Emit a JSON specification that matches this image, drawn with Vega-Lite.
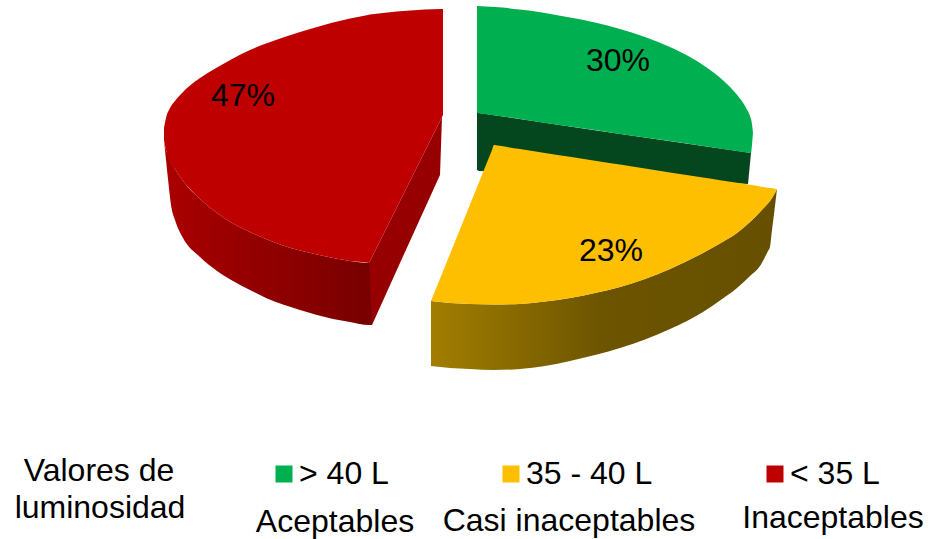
{
  "$schema": "https://vega.github.io/schema/vega-lite/v6.json",
  "description": "Exploded 3D pie of luminosity classes. Vega-Lite has no perspective arc, so each face is an outline in projected chart units (x, y to y2).",
  "width": 930,
  "height": 539,
  "padding": 0,
  "autosize": {"type": "none"},
  "background": "white",
  "config": {"view": {"stroke": null}, "font": "Liberation Sans"},
  "datasets": {
    "caras": [
      {"rango": "< 35 L", "parte": "tapa", "x": 164, "y": 128, "y2": 140},
      {"rango": "< 35 L", "parte": "tapa", "x": 166, "y": 118, "y2": 150},
      {"rango": "< 35 L", "parte": "tapa", "x": 170, "y": 108, "y2": 161},
      {"rango": "< 35 L", "parte": "tapa", "x": 175, "y": 101, "y2": 169},
      {"rango": "< 35 L", "parte": "tapa", "x": 183, "y": 92, "y2": 181},
      {"rango": "< 35 L", "parte": "tapa", "x": 190, "y": 85.5, "y2": 189},
      {"rango": "< 35 L", "parte": "tapa", "x": 200, "y": 78, "y2": 199},
      {"rango": "< 35 L", "parte": "tapa", "x": 217, "y": 67.5, "y2": 213},
      {"rango": "< 35 L", "parte": "tapa", "x": 233, "y": 58.5, "y2": 223.5},
      {"rango": "< 35 L", "parte": "tapa", "x": 250, "y": 50, "y2": 232},
      {"rango": "< 35 L", "parte": "tapa", "x": 266, "y": 43.5, "y2": 239},
      {"rango": "< 35 L", "parte": "tapa", "x": 283, "y": 37.5, "y2": 245.5},
      {"rango": "< 35 L", "parte": "tapa", "x": 300, "y": 32, "y2": 250.5},
      {"rango": "< 35 L", "parte": "tapa", "x": 317, "y": 27, "y2": 254.5},
      {"rango": "< 35 L", "parte": "tapa", "x": 333, "y": 22.5, "y2": 258},
      {"rango": "< 35 L", "parte": "tapa", "x": 350, "y": 18.5, "y2": 261},
      {"rango": "< 35 L", "parte": "tapa", "x": 368, "y": 15, "y2": 262.8},
      {"rango": "< 35 L", "parte": "tapa", "x": 369, "y": 14.8, "y2": 263},
      {"rango": "< 35 L", "parte": "tapa", "x": 370, "y": 14.6, "y2": 261},
      {"rango": "< 35 L", "parte": "tapa", "x": 383, "y": 13, "y2": 235},
      {"rango": "< 35 L", "parte": "tapa", "x": 410, "y": 10.5, "y2": 181},
      {"rango": "< 35 L", "parte": "tapa", "x": 440, "y": 9.1, "y2": 121},
      {"rango": "< 35 L", "parte": "tapa", "x": 442, "y": 9, "y2": 117},
      {"rango": "< 35 L", "parte": "tapa", "x": 443, "y": 9, "y2": 115},

      {"rango": "< 35 L", "parte": "borde", "x": 164, "y": 140, "y2": 140},
      {"rango": "< 35 L", "parte": "borde", "x": 166, "y": 150, "y2": 160},
      {"rango": "< 35 L", "parte": "borde", "x": 168, "y": 155, "y2": 179},
      {"rango": "< 35 L", "parte": "borde", "x": 171, "y": 162, "y2": 205},
      {"rango": "< 35 L", "parte": "borde", "x": 175, "y": 169, "y2": 220},
      {"rango": "< 35 L", "parte": "borde", "x": 183, "y": 181, "y2": 238},
      {"rango": "< 35 L", "parte": "borde", "x": 200, "y": 199, "y2": 257},
      {"rango": "< 35 L", "parte": "borde", "x": 217, "y": 213, "y2": 271},
      {"rango": "< 35 L", "parte": "borde", "x": 233, "y": 223.5, "y2": 281},
      {"rango": "< 35 L", "parte": "borde", "x": 250, "y": 232, "y2": 290},
      {"rango": "< 35 L", "parte": "borde", "x": 266, "y": 239, "y2": 298},
      {"rango": "< 35 L", "parte": "borde", "x": 283, "y": 245.5, "y2": 304.5},
      {"rango": "< 35 L", "parte": "borde", "x": 300, "y": 250.5, "y2": 310},
      {"rango": "< 35 L", "parte": "borde", "x": 317, "y": 254.5, "y2": 315},
      {"rango": "< 35 L", "parte": "borde", "x": 333, "y": 258, "y2": 319},
      {"rango": "< 35 L", "parte": "borde", "x": 350, "y": 261, "y2": 322},
      {"rango": "< 35 L", "parte": "borde", "x": 369, "y": 263, "y2": 325},
      {"rango": "< 35 L", "parte": "borde", "x": 372, "y": 258, "y2": 325},

      {"rango": "< 35 L", "parte": "corte", "x": 369, "y": 263, "y2": 263},
      {"rango": "< 35 L", "parte": "corte", "x": 372, "y": 257, "y2": 325},
      {"rango": "< 35 L", "parte": "corte", "x": 400, "y": 201, "y2": 263},
      {"rango": "< 35 L", "parte": "corte", "x": 440, "y": 121, "y2": 175},
      {"rango": "< 35 L", "parte": "corte", "x": 442, "y": 117, "y2": 117},

      {"rango": "> 40 L", "parte": "tapa", "x": 477, "y": 6, "y2": 113},
      {"rango": "> 40 L", "parte": "tapa", "x": 495, "y": 7, "y2": 115.5},
      {"rango": "> 40 L", "parte": "tapa", "x": 520, "y": 9.5, "y2": 119},
      {"rango": "> 40 L", "parte": "tapa", "x": 545, "y": 13, "y2": 123},
      {"rango": "> 40 L", "parte": "tapa", "x": 570, "y": 17.5, "y2": 126.5},
      {"rango": "> 40 L", "parte": "tapa", "x": 595, "y": 22.5, "y2": 130},
      {"rango": "> 40 L", "parte": "tapa", "x": 620, "y": 29, "y2": 134},
      {"rango": "> 40 L", "parte": "tapa", "x": 645, "y": 37, "y2": 137.6},
      {"rango": "> 40 L", "parte": "tapa", "x": 670, "y": 47, "y2": 141},
      {"rango": "> 40 L", "parte": "tapa", "x": 690, "y": 57, "y2": 144},
      {"rango": "> 40 L", "parte": "tapa", "x": 703, "y": 65, "y2": 146},
      {"rango": "> 40 L", "parte": "tapa", "x": 718, "y": 76, "y2": 148.2},
      {"rango": "> 40 L", "parte": "tapa", "x": 730, "y": 87, "y2": 150},
      {"rango": "> 40 L", "parte": "tapa", "x": 738, "y": 96, "y2": 151.2},
      {"rango": "> 40 L", "parte": "tapa", "x": 745, "y": 106, "y2": 152.2},
      {"rango": "> 40 L", "parte": "tapa", "x": 750, "y": 116, "y2": 152.9},
      {"rango": "> 40 L", "parte": "tapa", "x": 751, "y": 119, "y2": 153},
      {"rango": "> 40 L", "parte": "tapa", "x": 752, "y": 124, "y2": 145},
      {"rango": "> 40 L", "parte": "tapa", "x": 753, "y": 133, "y2": 133},

      {"rango": "> 40 L", "parte": "corte", "x": 477, "y": 113, "y2": 170},
      {"rango": "> 40 L", "parte": "corte", "x": 479, "y": 113, "y2": 171},
      {"rango": "> 40 L", "parte": "corte", "x": 600, "y": 131, "y2": 175},
      {"rango": "> 40 L", "parte": "corte", "x": 748, "y": 152.6, "y2": 184},
      {"rango": "> 40 L", "parte": "corte", "x": 751, "y": 153, "y2": 153},

      {"rango": "35 - 40 L", "parte": "tapa", "x": 431, "y": 301, "y2": 301},
      {"rango": "35 - 40 L", "parte": "tapa", "x": 450, "y": 254, "y2": 303},
      {"rango": "35 - 40 L", "parte": "tapa", "x": 470, "y": 204.4, "y2": 304},
      {"rango": "35 - 40 L", "parte": "tapa", "x": 492, "y": 150, "y2": 304.5},
      {"rango": "35 - 40 L", "parte": "tapa", "x": 494, "y": 145, "y2": 304.5},
      {"rango": "35 - 40 L", "parte": "tapa", "x": 496, "y": 145.3, "y2": 304.5},
      {"rango": "35 - 40 L", "parte": "tapa", "x": 520, "y": 149, "y2": 304},
      {"rango": "35 - 40 L", "parte": "tapa", "x": 545, "y": 153, "y2": 301.5},
      {"rango": "35 - 40 L", "parte": "tapa", "x": 570, "y": 156.8, "y2": 298},
      {"rango": "35 - 40 L", "parte": "tapa", "x": 595, "y": 160.7, "y2": 293},
      {"rango": "35 - 40 L", "parte": "tapa", "x": 620, "y": 164.6, "y2": 287},
      {"rango": "35 - 40 L", "parte": "tapa", "x": 645, "y": 168.5, "y2": 279},
      {"rango": "35 - 40 L", "parte": "tapa", "x": 670, "y": 172.4, "y2": 269},
      {"rango": "35 - 40 L", "parte": "tapa", "x": 703, "y": 177.5, "y2": 253},
      {"rango": "35 - 40 L", "parte": "tapa", "x": 720, "y": 180.2, "y2": 243.5},
      {"rango": "35 - 40 L", "parte": "tapa", "x": 737, "y": 182.8, "y2": 233},
      {"rango": "35 - 40 L", "parte": "tapa", "x": 750, "y": 184.8, "y2": 222},
      {"rango": "35 - 40 L", "parte": "tapa", "x": 760, "y": 186.4, "y2": 212},
      {"rango": "35 - 40 L", "parte": "tapa", "x": 770, "y": 188, "y2": 201},
      {"rango": "35 - 40 L", "parte": "tapa", "x": 775, "y": 188.7, "y2": 193},
      {"rango": "35 - 40 L", "parte": "tapa", "x": 777, "y": 189, "y2": 189},

      {"rango": "35 - 40 L", "parte": "borde", "x": 431, "y": 301, "y2": 366},
      {"rango": "35 - 40 L", "parte": "borde", "x": 450, "y": 303, "y2": 368},
      {"rango": "35 - 40 L", "parte": "borde", "x": 470, "y": 304, "y2": 369},
      {"rango": "35 - 40 L", "parte": "borde", "x": 494, "y": 304.5, "y2": 370},
      {"rango": "35 - 40 L", "parte": "borde", "x": 520, "y": 304, "y2": 369},
      {"rango": "35 - 40 L", "parte": "borde", "x": 545, "y": 301.5, "y2": 366},
      {"rango": "35 - 40 L", "parte": "borde", "x": 570, "y": 298, "y2": 361},
      {"rango": "35 - 40 L", "parte": "borde", "x": 595, "y": 293, "y2": 355},
      {"rango": "35 - 40 L", "parte": "borde", "x": 620, "y": 287, "y2": 348},
      {"rango": "35 - 40 L", "parte": "borde", "x": 645, "y": 279, "y2": 339.5},
      {"rango": "35 - 40 L", "parte": "borde", "x": 670, "y": 269, "y2": 329},
      {"rango": "35 - 40 L", "parte": "borde", "x": 703, "y": 253, "y2": 312},
      {"rango": "35 - 40 L", "parte": "borde", "x": 720, "y": 243.5, "y2": 300.5},
      {"rango": "35 - 40 L", "parte": "borde", "x": 737, "y": 233, "y2": 288},
      {"rango": "35 - 40 L", "parte": "borde", "x": 750, "y": 222, "y2": 276},
      {"rango": "35 - 40 L", "parte": "borde", "x": 760, "y": 212, "y2": 266},
      {"rango": "35 - 40 L", "parte": "borde", "x": 768, "y": 203, "y2": 251},
      {"rango": "35 - 40 L", "parte": "borde", "x": 770, "y": 201, "y2": 247},
      {"rango": "35 - 40 L", "parte": "borde", "x": 772, "y": 198, "y2": 230},
      {"rango": "35 - 40 L", "parte": "borde", "x": 775, "y": 193, "y2": 206},
      {"rango": "35 - 40 L", "parte": "borde", "x": 777, "y": 189, "y2": 189}
    ],
    "clases": [
      {"rango": "> 40 L", "clase": "Aceptables", "porcentaje": 30, "etiqueta": "30%", "etiquetaX": 618, "etiquetaY": 61, "claseX": 335, "claseY": 522},
      {"rango": "35 - 40 L", "clase": "Casi inaceptables", "porcentaje": 23, "etiqueta": "23%", "etiquetaX": 611, "etiquetaY": 250.5, "claseX": 569, "claseY": 520.5},
      {"rango": "< 35 L", "clase": "Inaceptables", "porcentaje": 47, "etiqueta": "47%", "etiquetaX": 243, "etiquetaY": 96, "claseX": 833, "claseY": 518}
    ],
    "encabezado": [
      {"linea": "Valores de", "x": 99, "y": 471},
      {"linea": "luminosidad", "x": 100, "y": 508}
    ]
  },
  "layer": [
    {
      "data": {"name": "caras"},
      "transform": [{"filter": "datum.rango === '< 35 L' && datum.parte === 'borde'"}],
      "mark": {"type": "area", "orient": "vertical", "interpolate": "monotone", "color": {"gradient": "linear", "x1": 0, "x2": 1, "y1": 0, "y2": 0, "stops": [{"offset": 0, "color": "#AA0000"}, {"offset": 1, "color": "#770000"}]}},
      "encoding": {
        "x": {"field": "x", "type": "quantitative", "axis": null, "scale": {"domain": [0, 930], "nice": false, "zero": false}},
        "y": {"field": "y", "type": "quantitative", "axis": null, "stack": null, "scale": {"domain": [0, 539], "reverse": true, "nice": false, "zero": false}},
        "y2": {"field": "y2"}
      }
    },
    {
      "data": {"name": "caras"},
      "transform": [{"filter": "datum.rango === '< 35 L' && datum.parte === 'corte'"}],
      "mark": {"type": "area", "orient": "vertical", "color": "#960000"},
      "encoding": {
        "x": {"field": "x", "type": "quantitative"},
        "y": {"field": "y", "type": "quantitative", "stack": null},
        "y2": {"field": "y2"}
      }
    },
    {
      "data": {"name": "caras"},
      "transform": [{"filter": "datum.rango === '> 40 L' && datum.parte === 'corte'"}],
      "mark": {"type": "area", "orient": "vertical", "color": "#04471F"},
      "encoding": {
        "x": {"field": "x", "type": "quantitative"},
        "y": {"field": "y", "type": "quantitative", "stack": null},
        "y2": {"field": "y2"}
      }
    },
    {
      "data": {"name": "caras"},
      "transform": [{"filter": "datum.rango === '35 - 40 L' && datum.parte === 'borde'"}],
      "mark": {"type": "area", "orient": "vertical", "interpolate": "monotone", "color": {"gradient": "linear", "x1": 0, "x2": 1, "y1": 0, "y2": 0, "stops": [{"offset": 0, "color": "#A27E00"}, {"offset": 0.5, "color": "#6C5400"}, {"offset": 1, "color": "#665000"}]}},
      "encoding": {
        "x": {"field": "x", "type": "quantitative"},
        "y": {"field": "y", "type": "quantitative", "stack": null},
        "y2": {"field": "y2"}
      }
    },
    {
      "data": {"name": "caras"},
      "transform": [{"filter": "datum.parte === 'tapa'"}],
      "mark": {"type": "area", "orient": "vertical", "interpolate": "monotone", "opacity": 1},
      "encoding": {
        "x": {"field": "x", "type": "quantitative"},
        "y": {"field": "y", "type": "quantitative", "stack": null},
        "y2": {"field": "y2"},
        "color": {
          "field": "rango",
          "type": "nominal",
          "scale": {"domain": ["> 40 L", "35 - 40 L", "< 35 L"], "range": ["#00B050", "#FDBF00", "#BE0000"]},
          "legend": {
            "title": null,
            "orient": "none",
            "legendX": 268,
            "legendY": 458,
            "direction": "horizontal",
            "columns": 3,
            "symbolType": "square",
            "symbolSize": 289,
            "symbolStrokeWidth": 0,
            "symbolOpacity": 1,
            "labelFont": "Liberation Sans",
            "labelFontSize": 32,
            "labelColor": "black",
            "labelOffset": -1,
            "labelLimit": 300,
            "columnPadding": 106
          }
        }
      }
    },
    {
      "data": {"name": "clases"},
      "mark": {"type": "text", "font": "Liberation Sans", "fontSize": 32, "color": "black", "align": "center", "baseline": "middle"},
      "encoding": {
        "x": {"field": "etiquetaX", "type": "quantitative"},
        "y": {"field": "etiquetaY", "type": "quantitative"},
        "text": {"field": "etiqueta"}
      }
    },
    {
      "data": {"name": "clases"},
      "mark": {"type": "text", "font": "Liberation Sans", "fontSize": 32, "color": "black", "align": "center", "baseline": "middle"},
      "encoding": {
        "x": {"field": "claseX", "type": "quantitative"},
        "y": {"field": "claseY", "type": "quantitative"},
        "text": {"field": "clase"}
      }
    },
    {
      "data": {"name": "encabezado"},
      "mark": {"type": "text", "font": "Liberation Sans", "fontSize": 32, "color": "black", "align": "center", "baseline": "middle"},
      "encoding": {
        "x": {"field": "x", "type": "quantitative"},
        "y": {"field": "y", "type": "quantitative"},
        "text": {"field": "linea"}
      }
    }
  ]
}
